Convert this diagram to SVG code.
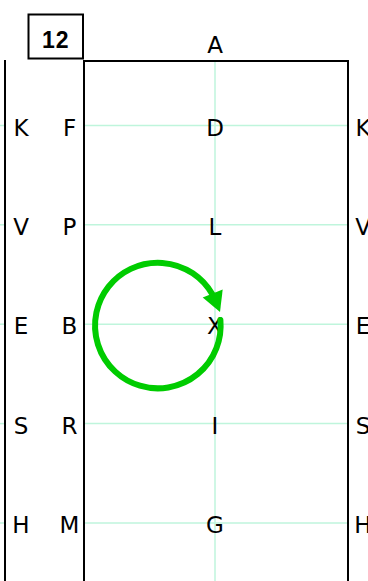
<svg xmlns="http://www.w3.org/2000/svg" width="368" height="581" viewBox="0 0 368 581">
<style>
.grid{stroke:#bff5dc;stroke-width:1.5;fill:none}
.border{stroke:#000;stroke-width:2;fill:none}
.lbl{font-family:"DejaVu Sans",Verdana,sans-serif;font-size:23px;fill:#000;text-anchor:middle}
.num{font-family:"Liberation Sans",Arial,sans-serif;font-size:23px;font-weight:bold;fill:#000;text-anchor:middle;letter-spacing:1px}
.path{stroke:#00cc00;stroke-width:6;fill:none;stroke-linecap:round}
</style>
<rect width="368" height="581" fill="#fff"/>
<g id="grid">
<line class="grid" x1="215" y1="61" x2="215" y2="581"/>
<line class="grid" x1="84" y1="125.5" x2="348" y2="125.5"/>
<line class="grid" x1="84" y1="224.8" x2="348" y2="224.8"/>
<line class="grid" x1="84" y1="324.2" x2="348" y2="324.2"/>
<line class="grid" x1="84" y1="423.6" x2="348" y2="423.6"/>
<line class="grid" x1="84" y1="523" x2="348" y2="523"/>
<line class="grid" x1="0" y1="125.5" x2="5" y2="125.5"/>
<line class="grid" x1="0" y1="224.8" x2="5" y2="224.8"/>
<line class="grid" x1="0" y1="324.2" x2="5" y2="324.2"/>
<line class="grid" x1="0" y1="423.6" x2="5" y2="423.6"/>
<line class="grid" x1="0" y1="523" x2="5" y2="523"/>
</g>
<g id="arena">
<path class="border" d="M84,582 V61 H348 V582"/>
<line class="border" x1="5" y1="60" x2="5" y2="582"/>
</g>
<g id="box12">
<rect class="border" x="28.5" y="14.5" width="54.5" height="44"/>
<text class="num" x="55.8" y="48">12</text>
</g>
<g id="labels">
<text class="lbl" x="215" y="53">A</text>
<text class="lbl" x="21" y="135.5">K</text>
<text class="lbl" x="69.5" y="135.5">F</text>
<text class="lbl" x="215" y="135.5">D</text>
<text class="lbl" x="363" y="135.5">K</text>
<text class="lbl" x="21" y="234.8">V</text>
<text class="lbl" x="69.5" y="234.8">P</text>
<text class="lbl" x="215" y="234.8">L</text>
<text class="lbl" x="363" y="234.8">V</text>
<text class="lbl" x="21" y="334.2">E</text>
<text class="lbl" x="69.5" y="334.2">B</text>
<text class="lbl" x="215" y="334.2">X</text>
<text class="lbl" x="363" y="334.2">E</text>
<text class="lbl" x="21" y="433.6">S</text>
<text class="lbl" x="69.5" y="433.6">R</text>
<text class="lbl" x="215" y="433.6">I</text>
<text class="lbl" x="363" y="433.6">S</text>
<text class="lbl" x="21" y="533">H</text>
<text class="lbl" x="69.5" y="533">M</text>
<text class="lbl" x="215" y="533">G</text>
<text class="lbl" x="363" y="533">H</text>
</g>
<g id="connectors">
<path class="path" d="M220.4,320 A62.8,62.8 0 1 1 212.2,294.1"/>
<polygon points="202.7,297.5 222.7,289.5 220,312" fill="#00cc00"/>
</g>
</svg>
